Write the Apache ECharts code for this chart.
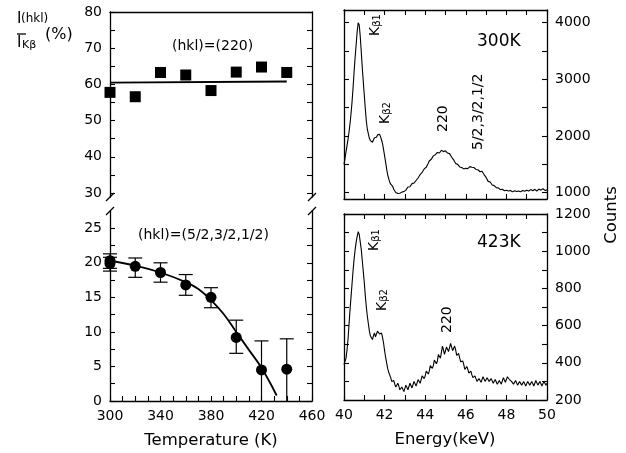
<!DOCTYPE html>
<html>
<head>
<meta charset="utf-8">
<script src="https://cdn.jsdelivr.net/npm/echarts@6/dist/echarts.min.js"></script>
<style>
  html, body { margin: 0; padding: 0; background: #fff; }
  #chart { width: 626px; height: 453px; }
</style>
</head>
<body>
<div id="chart"></div>
<script>
// Temperature dependence of the integrated intensity ratios
const temperatures = [300, 320, 340, 360, 380, 400, 420, 440];
const ratio220 = [57.8, 56.6, 63.3, 62.6, 58.3, 63.4, 64.8, 63.3];
const fit220 = [[300, 60.5], [440, 60.8]];

const tempsSuper = [300, 300, 320, 340, 360, 380, 400, 420, 440];
const ratioSuper = [20.3, 19.9, 19.5, 18.6, 16.8, 15.0, 9.2, 4.5, 4.6];
const errLow = [19.2, 18.8, 17.9, 17.2, 15.3, 13.5, 6.9, 0, 0];
const errHigh = [21.3, 20.8, 20.7, 20.0, 18.3, 16.4, 11.7, 8.7, 9.0];
const fitSuperT = [300, 320, 340, 360, 370, 380, 390, 400, 410, 420, 432];
const fitSuperV = [20.3, 19.6, 18.6, 17.2, 16.2, 14.6, 12.6, 10.0, 7.4, 4.8, 0.8];

// Energy spectra, 40.00 - 50.00 keV in 0.05 keV steps
const energyStart = 40.0;
const energyStep = 0.05;
const counts300K = [
  1500, 1610, 1720, 1830, 1950, 2080, 2230, 2410, 2620, 2870, 3150, 3400, 3620, 3850, 4000, 3960, 3760, 3490, 3210, 2960,
  2720, 2480, 2260, 2120, 2040, 1960, 1920, 1940, 1890, 1930, 1970, 1950, 1980, 2020, 2050, 2030, 1990, 1930, 1860, 1760,
  1650, 1540, 1420, 1320, 1250, 1190, 1150, 1130, 1110, 1060, 1030, 1005, 1000, 985, 1015, 990, 985, 1010, 1005, 1020,
  1030, 1045, 1060, 1100, 1120, 1105, 1135, 1160, 1180, 1170, 1195, 1215, 1240, 1260, 1285, 1320, 1350, 1360, 1380, 1420,
  1440, 1450, 1470, 1520, 1560, 1570, 1590, 1625, 1650, 1640, 1670, 1695, 1710, 1690, 1700, 1735, 1750, 1720, 1725, 1745,
  1740, 1715, 1700, 1710, 1690, 1655, 1630, 1610, 1580, 1545, 1515, 1525, 1500, 1470, 1455, 1470, 1445, 1430, 1420, 1445,
  1430, 1410, 1425, 1445, 1460, 1435, 1450, 1470, 1445, 1425, 1410, 1430, 1405, 1385, 1370, 1395, 1380, 1350, 1320, 1300,
  1270, 1235, 1200, 1215, 1190, 1160, 1135, 1145, 1125, 1100, 1090, 1105, 1085, 1065, 1055, 1075, 1060, 1040, 1035, 1055,
  1045, 1025, 1030, 1050, 1040, 1020, 1015, 1040, 1035, 1015, 1020, 1045, 1030, 1010, 1015, 1035, 1040, 1020, 1025, 1050,
  1045, 1025, 1030, 1060, 1055, 1030, 1035, 1065, 1060, 1035, 1030, 1060, 1065, 1040, 1045, 1075, 1070, 1040, 1040, 1065,
  1050
];
const counts423K = [
  390, 400, 425, 470, 530, 610, 690, 760, 830, 900, 960, 1010, 1050, 1080, 1105, 1090, 1050, 1010, 950, 890,
  830, 760, 700, 650, 610, 570, 545, 535, 525, 545, 560, 540, 545, 570, 575, 555, 550, 560, 535, 505,
  465, 430, 400, 370, 350, 335, 320, 300, 290, 305, 285, 270, 265, 290, 275, 255, 245, 270, 265, 245,
  255, 280, 275, 255, 265, 290, 285, 265, 275, 300, 295, 275, 285, 310, 305, 290, 310, 330, 335, 315,
  330, 355, 360, 340, 355, 385, 390, 370, 385, 415, 420, 395, 410, 445, 450, 425, 435, 490, 470, 445,
  455, 485, 480, 460, 470, 505, 495, 465, 460, 490, 470, 440, 430, 450, 425, 405, 395, 410, 390, 365,
  360, 380, 365, 345, 340, 355, 335, 320, 320, 330, 315, 300, 300, 315, 310, 295, 305, 325, 320, 300,
  305, 320, 315, 300, 300, 315, 310, 290, 295, 310, 305, 285, 290, 305, 300, 285, 295, 320, 315, 295,
  305, 325, 330, 310, 310, 300, 305, 285, 295, 305, 300, 280, 285, 300, 300, 280, 280, 300, 295, 275,
  285, 300, 300, 280, 280, 300, 295, 275, 290, 305, 300, 280, 285, 300, 295, 275, 280, 300, 295, 280,
  290
];

// Axis label / tick positions
const tlLabels = [30, 40, 50, 60, 70, 80];
const tlTicks = [30, 35, 40, 45, 50, 55, 60, 65, 70, 75, 80];
const blLabels = [0, 5, 10, 15, 20, 25];
const blTicks = [0, 2.5, 5, 7.5, 10, 12.5, 15, 17.5, 20, 22.5, 25];
const tempLabels = [300, 340, 380, 420, 460];
const tempTicks = [300, 310, 320, 330, 340, 350, 360, 370, 380, 390, 400, 410, 420, 430, 440, 450, 460];
const trLabels = [1000, 2000, 3000, 4000];
const trTicks = [1000, 1500, 2000, 2500, 3000, 3500, 4000];
const brLabels = [200, 400, 600, 800, 1000, 1200];
const brTicks = [200, 300, 400, 500, 600, 700, 800, 900, 1000, 1100, 1200];
const energyLabels = [40, 42, 44, 46, 48, 50];
const energyTicks = [40, 41, 42, 43, 44, 45, 46, 47, 48, 49, 50];

const FONT = 'DejaVu Sans';
const INK = '#000';

const toPairs = (xs, ys) => xs.map((x, i) => [x, ys[i]]);
const spectrum = arr => arr.map((c, i) => [+(energyStart + i * energyStep).toFixed(2), c]);

function axisBase(extra) {
  return Object.assign({
    type: 'value',
    axisLine: { show: true, onZero: false, lineStyle: { color: INK, width: 1.3 } },
    axisTick: { show: true, inside: true, length: 5, lineStyle: { color: INK, width: 1.1 } },
    axisLabel: { show: false },
    splitLine: { show: false }
  }, extra);
}
function withTicks(ticks, labels, extra) {
  const a = axisBase(extra);
  a.axisTick = Object.assign({}, a.axisTick, { customValues: ticks });
  if (labels) {
    a.axisLabel = {
      show: true, customValues: labels, color: INK, fontFamily: FONT, fontSize: 14,
      formatter: v => String(v)
    };
  }
  return a;
}

const chart = echarts.init(document.getElementById('chart'), null, { renderer: 'canvas' });

const peakLabel = sub => ({
  text: '{k|K}{s|' + sub + '}',
  rich: {
    k: { fontFamily: FONT, fontSize: 14, fill: INK },
    s: { fontFamily: FONT, fontSize: 10, fill: INK, verticalAlign: 'bottom' }
  },
  verticalAlign: 'middle'
});

const option = {
  animation: false,
  backgroundColor: '#fff',
  grid: [
    { left: 110, right: 314, top: 12, height: 185 },   // 0: (220) ratio
    { left: 110, right: 314, top: 211, bottom: 52 },   // 1: (5/2,3/2,1/2) ratio
    { left: 344, right: 79, top: 10, height: 189 },    // 2: 300K spectrum
    { left: 344, right: 79, top: 214, bottom: 53 }     // 3: 423K spectrum
  ],
  xAxis: [
    axisBase({ gridIndex: 0, position: 'top', min: 300, max: 460, axisTick: { show: false } }),
    withTicks(tempTicks, tempLabels, { gridIndex: 1, position: 'bottom', min: 300, max: 460 }),
    withTicks(energyTicks, null, { gridIndex: 2, position: 'bottom', min: 40, max: 50 }),
    withTicks(energyTicks, null, { gridIndex: 2, position: 'top', min: 40, max: 50 }),
    withTicks(energyTicks, energyLabels, { gridIndex: 3, position: 'bottom', min: 40, max: 50 }),
    withTicks(energyTicks, null, { gridIndex: 3, position: 'top', min: 40, max: 50 })
  ],
  yAxis: [
    withTicks(tlTicks, tlLabels, { gridIndex: 0, position: 'left', min: 28.9, max: 80 }),
    withTicks(tlTicks, null, { gridIndex: 0, position: 'right', min: 28.9, max: 80 }),
    withTicks(blTicks, blLabels, { gridIndex: 1, position: 'left', min: 0, max: 27.5 }),
    withTicks(blTicks, null, { gridIndex: 1, position: 'right', min: 0, max: 27.5 }),
    withTicks(trTicks, trLabels, { gridIndex: 2, position: 'right', min: 889, max: 4224 }),
    withTicks(trTicks, null, { gridIndex: 2, position: 'left', min: 889, max: 4224 }),
    withTicks(brTicks, brLabels, { gridIndex: 3, position: 'right', min: 200, max: 1200 }),
    withTicks(brTicks, null, { gridIndex: 3, position: 'left', min: 200, max: 1200 })
  ],
  series: [
    {
      type: 'line', xAxisIndex: 0, yAxisIndex: 0, data: fit220,
      symbol: 'none', lineStyle: { color: INK, width: 1.8 }
    },
    {
      type: 'scatter', xAxisIndex: 0, yAxisIndex: 0, data: toPairs(temperatures, ratio220),
      symbol: 'rect', symbolSize: 11, itemStyle: { color: INK, opacity: 1 }
    },
    {
      type: 'custom', xAxisIndex: 1, yAxisIndex: 2,
      data: tempsSuper.map((t, i) => [t, errLow[i], errHigh[i]]),
      renderItem: function (params, api) {
        const lo = api.coord([api.value(0), api.value(1)]);
        const hi = api.coord([api.value(0), api.value(2)]);
        const w = 7;
        const style = { stroke: INK, lineWidth: 1.2 };
        const children = [
          { type: 'line', shape: { x1: hi[0], y1: hi[1], x2: lo[0], y2: lo[1] }, style: style },
          { type: 'line', shape: { x1: hi[0] - w, y1: hi[1], x2: hi[0] + w, y2: hi[1] }, style: style }
        ];
        if (api.value(1) > 0) {
          children.push({ type: 'line', shape: { x1: lo[0] - w, y1: lo[1], x2: lo[0] + w, y2: lo[1] }, style: style });
        }
        return { type: 'group', children: children };
      }
    },
    {
      type: 'line', xAxisIndex: 1, yAxisIndex: 2, data: toPairs(fitSuperT, fitSuperV),
      smooth: 0.4, symbol: 'none', lineStyle: { color: INK, width: 1.8 }
    },
    {
      type: 'scatter', xAxisIndex: 1, yAxisIndex: 2, data: toPairs(tempsSuper, ratioSuper),
      symbol: 'circle', symbolSize: 11, itemStyle: { color: INK, opacity: 1 }
    },
    {
      type: 'line', xAxisIndex: 2, yAxisIndex: 4, data: spectrum(counts300K),
      symbol: 'none', lineStyle: { color: INK, width: 1.1 }
    },
    {
      type: 'line', xAxisIndex: 4, yAxisIndex: 6, data: spectrum(counts423K),
      symbol: 'none', lineStyle: { color: INK, width: 1.1 }
    }
  ],
  graphic: {
    elements: [
      // axis breaks
      { type: 'line', shape: { x1: 106, y1: 201, x2: 114, y2: 193 }, style: { stroke: INK, lineWidth: 1.2 } },
      { type: 'line', shape: { x1: 106, y1: 215, x2: 114, y2: 207 }, style: { stroke: INK, lineWidth: 1.2 } },
      { type: 'line', shape: { x1: 308, y1: 201, x2: 316, y2: 193 }, style: { stroke: INK, lineWidth: 1.2 } },
      { type: 'line', shape: { x1: 308, y1: 215, x2: 316, y2: 207 }, style: { stroke: INK, lineWidth: 1.2 } },
      // y axis title of the left panel
      { type: 'text', x: 17, y: 12, style: { text: 'I', font: '15px "DejaVu Sans"', fill: INK } },
      { type: 'text', x: 21, y: 13, style: { text: '(hkl)', font: '12px "DejaVu Sans"', fill: INK } },
      { type: 'line', shape: { x1: 17, y1: 34, x2: 26, y2: 34 }, style: { stroke: INK, lineWidth: 1.3 } },
      { type: 'text', x: 17, y: 36, style: { text: 'I', font: '15px "DejaVu Sans"', fill: INK } },
      { type: 'text', x: 22, y: 40, style: { text: 'Kβ', font: '11px "DejaVu Sans"', fill: INK } },
      { type: 'text', x: 45, y: 27, style: { text: '(%)', font: '16px "DejaVu Sans"', fill: INK } },
      // panel annotations
      { type: 'text', x: 172, y: 46, style: { text: '(hkl)=(220)', font: '14px "DejaVu Sans"', fill: INK, verticalAlign: 'middle' } },
      { type: 'text', x: 138, y: 235, style: { text: '(hkl)=(5/2,3/2,1/2)', font: '14px "DejaVu Sans"', fill: INK, verticalAlign: 'middle' } },
      { type: 'text', x: 477, y: 42, style: { text: '300K', font: '17px "DejaVu Sans"', fill: INK, verticalAlign: 'middle' } },
      { type: 'text', x: 477, y: 243, style: { text: '423K', font: '17px "DejaVu Sans"', fill: INK, verticalAlign: 'middle' } },
      // peak labels (vertical)
      { type: 'text', x: 375, y: 36, rotation: Math.PI / 2, style: peakLabel('β1') },
      { type: 'text', x: 385, y: 124, rotation: Math.PI / 2, style: peakLabel('β2') },
      { type: 'text', x: 443, y: 132, rotation: Math.PI / 2, style: { text: '220', font: '14px "DejaVu Sans"', fill: INK, verticalAlign: 'middle' } },
      { type: 'text', x: 478, y: 150, rotation: Math.PI / 2, style: { text: '5/2,3/2,1/2', font: '14px "DejaVu Sans"', fill: INK, verticalAlign: 'middle' } },
      { type: 'text', x: 374, y: 251, rotation: Math.PI / 2, style: peakLabel('β1') },
      { type: 'text', x: 382, y: 311, rotation: Math.PI / 2, style: peakLabel('β2') },
      { type: 'text', x: 447, y: 333, rotation: Math.PI / 2, style: { text: '220', font: '14px "DejaVu Sans"', fill: INK, verticalAlign: 'middle' } },
      // axis titles
      { type: 'text', x: 211, y: 441, style: { text: 'Temperature (K)', font: '16.5px "DejaVu Sans"', fill: INK, align: 'center', verticalAlign: 'middle' } },
      { type: 'text', x: 445, y: 440, style: { text: 'Energy(keV)', font: '16.5px "DejaVu Sans"', fill: INK, align: 'center', verticalAlign: 'middle' } },
      { type: 'text', x: 612, y: 215, rotation: Math.PI / 2, style: { text: 'Counts', font: '16.5px "DejaVu Sans"', fill: INK, align: 'center', verticalAlign: 'middle' } }
    ]
  }
};

chart.setOption(option);
</script>
</body>
</html>
